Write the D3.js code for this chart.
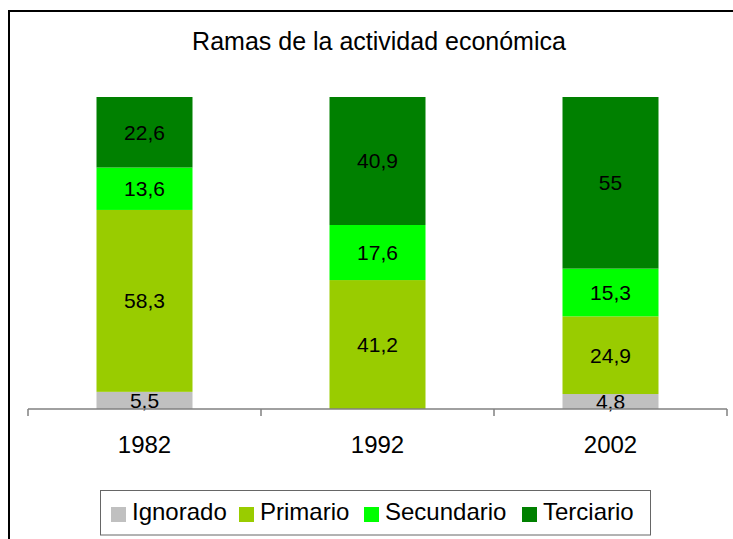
<!DOCTYPE html>
<html>
<head>
<meta charset="utf-8">
<script src="https://cdn.jsdelivr.net/npm/d3@7"></script>
<style>
  html, body { margin: 0; padding: 0; background: #fff; }
  svg { display: block; }
  text { font-family: "Liberation Sans", Arial, sans-serif; }
</style>
</head>
<body>
<svg id="chart" width="733" height="539"></svg>
<script>
const years = ["1982", "1992", "2002"];
const seriesNames = ["Ignorado", "Primario", "Secundario", "Terciario"];
const ignorado = [5.5, 0, 4.8];
const primario = [58.3, 41.2, 24.9];
const secundario = [13.6, 17.6, 15.3];
const terciario = [22.6, 40.9, 55];
const colors = ["#c0c0c0", "#99cc00", "#00ff00", "#008000"];
const title = "Ramas de la actividad económica";

const seriesValues = [ignorado, primario, secundario, terciario];
const rows = years.map((y, i) => {
  const r = { year: y };
  seriesNames.forEach((s, j) => r[s] = seriesValues[j][i]);
  return r;
});

const svg = d3.select("#chart");

// outer chart border
svg.append("rect")
  .attr("x", 9).attr("y", 11)
  .attr("width", 760).attr("height", 560)
  .attr("fill", "#fff").attr("stroke", "#000").attr("stroke-width", 2);

svg.append("text")
  .attr("x", 379).attr("y", 50)
  .attr("text-anchor", "middle")
  .attr("font-size", 25)
  .text(title);

const x = d3.scaleBand().domain(years).range([28, 727]).paddingInner(0).paddingOuter(0);
const y = d3.scaleLinear().domain([0, 1]).range([409, 97]);
const barW = 96;

const stack = d3.stack().keys(seriesNames).offset(d3.stackOffsetExpand);
const stacked = stack(rows);

const g = svg.append("g");
stacked.forEach((layer, li) => {
  const lg = g.append("g").attr("fill", colors[li]);
  lg.selectAll("rect").data(layer).join("rect")
    .attr("x", d => x(d.data.year) + x.bandwidth() / 2 - barW / 2)
    .attr("width", barW)
    .attr("y", d => y(d[1]))
    .attr("height", d => y(d[0]) - y(d[1]));
});
stacked.forEach((layer, li) => {
  g.append("g").selectAll("text").data(layer.filter(d => d.data[layer.key] > 0)).join("text")
    .attr("x", d => x(d.data.year) + x.bandwidth() / 2)
    .attr("y", d => (y(d[0]) + y(d[1])) / 2)
    .attr("dy", "0.35em")
    .attr("text-anchor", "middle")
    .attr("font-size", 21)
    .attr("fill", "#000")
    .text(d => String(d.data[layer.key]).replace(".", ","));
});

// x axis
const axisG = svg.append("g").attr("transform", "translate(0,409)");
axisG.append("line").attr("x1", 28).attr("x2", 727).attr("y1", 0).attr("y2", 0)
  .attr("stroke", "#808080").attr("stroke-width", 1.5);
const bounds = years.map(d => x(d)).concat([x(years[years.length - 1]) + x.bandwidth()]);
axisG.selectAll("line.tick").data(bounds).join("line").attr("class", "tick")
  .attr("x1", d => d).attr("x2", d => d).attr("y1", 0).attr("y2", 7)
  .attr("stroke", "#808080").attr("stroke-width", 1.5);
axisG.selectAll("text").data(years).join("text")
  .attr("x", d => x(d) + x.bandwidth() / 2)
  .attr("y", 44)
  .attr("text-anchor", "middle")
  .attr("font-size", 24)
  .text(d => d);

// legend
const leg = svg.append("g");
leg.append("rect").attr("x", 100.5).attr("y", 490.5).attr("width", 550).attr("height", 44.5)
  .attr("fill", "#fff").attr("stroke", "#666").attr("stroke-width", 1);
const legX = [111, 239, 364, 522];
seriesNames.forEach((s, i) => {
  leg.append("rect").attr("x", legX[i]).attr("y", 507).attr("width", 15).attr("height", 15)
    .attr("fill", colors[i]);
  leg.append("text").attr("x", legX[i] + 21).attr("y", 519.5)
    .attr("font-size", 24).text(s);
});
</script>
</body>
</html>
